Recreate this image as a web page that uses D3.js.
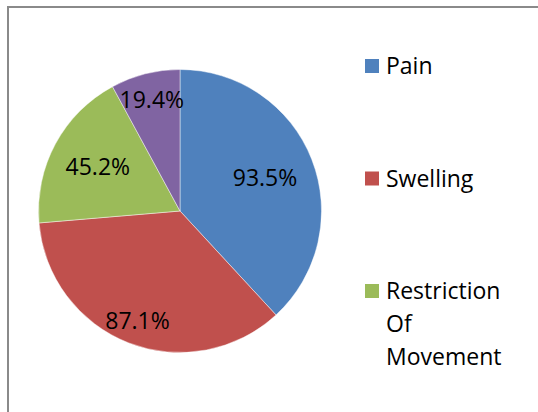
<!DOCTYPE html>
<html>
<head>
<meta charset="utf-8">
<script src="https://cdn.jsdelivr.net/npm/d3@7"></script>
<style>
  html, body { margin: 0; padding: 0; background: #fff; }
  svg { display: block; }
  text { font-family: "Open Sans", "Noto Sans", sans-serif; fill: #000; }
</style>
</head>
<body>
<div id="chart"></div>
<script>
// ---- data ----
const categories = ["Pain", "Swelling", "Restriction Of Movement", ""];
const values = [93.5, 87.1, 45.2, 19.4];
const labels = ["93.5%", "87.1%", "45.2%", "19.4%"];
const legendLines = [["Pain"], ["Swelling"], ["Restriction", "Of", "Movement"]];
const colors = ["#4F81BD", "#C0504D", "#9BBB59", "#8064A2"];

// ---- layout ----
const W = 538, H = 412;
const cx = 180, cy = 211, R = 141.5;
const labelRadiusFrac = [0.645, 0.83, 0.66, 0.81];

const svg = d3.select("#chart").append("svg")
  .attr("width", W).attr("height", H);

svg.append("rect")
  .attr("x", 8).attr("y", 7)
  .attr("width", W + 20).attr("height", H + 20)
  .attr("fill", "#fff")
  .attr("stroke", "#8a8a8a")
  .attr("stroke-width", 2);

const data = values.map((v, i) => ({ cat: categories[i], value: v, label: labels[i], color: colors[i], i }));

const pie = d3.pie().sort(null).value(d => d.value).startAngle(0).endAngle(2 * Math.PI);
const arcs = pie(data);
const arc = d3.arc().innerRadius(0).outerRadius(R);

const g = svg.append("g").attr("transform", `translate(${cx},${cy})`);

g.selectAll("path.slice")
  .data(arcs)
  .enter().append("path")
  .attr("class", "slice")
  .attr("d", arc)
  .attr("fill", d => d.data.color)
  .attr("stroke", "#ffffff")
  .attr("stroke-opacity", 0.6)
  .attr("stroke-width", 0.75);

g.selectAll("text.lbl")
  .data(arcs)
  .enter().append("text")
  .attr("class", "lbl")
  .attr("transform", d => {
    const r = R * labelRadiusFrac[d.data.i];
    const c = d3.arc().innerRadius(r).outerRadius(r).centroid(d);
    return `translate(${c[0]},${c[1]})`;
  })
  .attr("text-anchor", "middle")
  .attr("dy", "0.36em")
  .attr("font-size", 23)
  .text(d => d.data.label);

// legend
const legendX = 365, legendY0 = 59, legendStep = 112.5, lineH = 33;
const lg = svg.append("g");
legendLines.forEach((lines, i) => {
  const y = legendY0 + i * legendStep;
  lg.append("rect")
    .attr("x", legendX).attr("y", y)
    .attr("width", 14).attr("height", 14)
    .attr("fill", colors[i]);
  const t = lg.append("text")
    .attr("x", legendX + 21)
    .attr("y", y + 15)
    .attr("font-size", 23);
  lines.forEach((ln, j) => {
    t.append("tspan")
      .attr("x", legendX + 21)
      .attr("dy", j === 0 ? 0 : lineH)
      .text(ln);
  });
});
</script>
</body>
</html>
